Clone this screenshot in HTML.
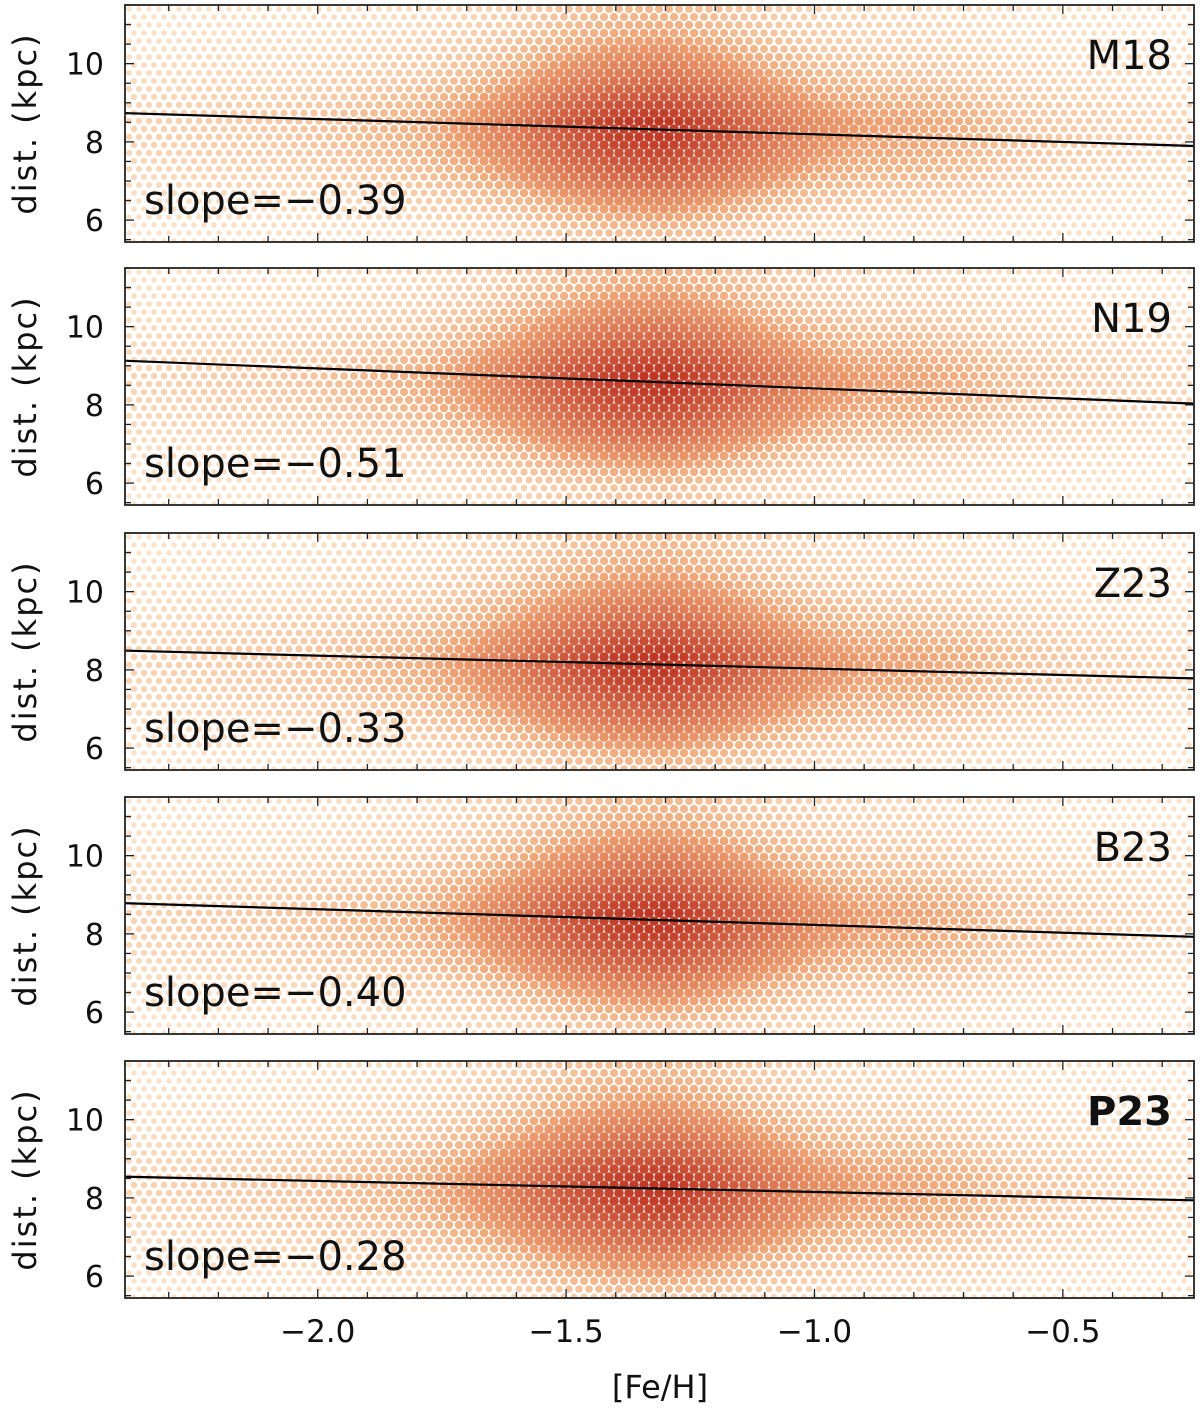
<!DOCTYPE html>
<html><head><meta charset="utf-8"><style>
body{margin:0;background:#fff;width:1200px;height:1411px;overflow:hidden}
svg{display:block}
text{font-family:"DejaVu Sans","Liberation Sans",sans-serif;fill:#111}
</style></head><body>
<svg id="chart" width="1200" height="1411" viewBox="0 0 1200 1411" xmlns="http://www.w3.org/2000/svg"></svg>
<script>
// ---- data ----
const panelNames = ["M18","N19","Z23","B23","P23"];
const slopes = [-0.39,-0.51,-0.33,-0.40,-0.28];
const slopeLabels = ["slope=\u22120.39","slope=\u22120.51","slope=\u22120.33","slope=\u22120.40","slope=\u22120.28"];
const fitAtCenter = [8.33,8.60,8.15,8.37,8.25]; // distance (kpc) of fit at [Fe/H]=-1.35
const xTicks = [-2.0,-1.5,-1.0,-0.5];
const xTickLabels = ["\u22122.0","\u22121.5","\u22121.0","\u22120.5"];
const yTicks = [6,8,10];
const yTickLabels = ["6","8","10"];
// estimated marginal densities
const fehBins = [-2.4,-2.3,-2.2,-2.1,-2.0,-1.9,-1.8,-1.7,-1.6,-1.5,-1.4,-1.3,-1.2,-1.1,-1.0,-0.9,-0.8,-0.7,-0.6,-0.5,-0.4,-0.3,-0.2];
const fehDensity = [0.15,0.17,0.2,0.22,0.25,0.3,0.35,0.45,0.6,0.8,0.95,1.0,0.85,0.65,0.5,0.42,0.4,0.35,0.27,0.22,0.18,0.15,0.13];
const distBins = [5.5,6.0,6.5,7.0,7.5,8.0,8.5,9.0,9.5,10.0,10.5,11.0,11.5];
const distDensity = [0.25,0.38,0.52,0.7,0.85,0.97,1.0,0.85,0.68,0.55,0.43,0.35,0.3];

// ---- layout ----
const NS="http://www.w3.org/2000/svg";
const svg=document.getElementById('chart');
const L=125,R=1194,X0=-2.388,X1=-0.236;
const panelTops=[5,268,533,797,1061], PH=237, Y0=5.44, Y1=11.5;
const xs=v=>L+(v-X0)/(X1-X0)*(R-L);
function mk(tag,attrs,parent){const e=document.createElementNS(NS,tag);for(const k in attrs)e.setAttribute(k,attrs[k]);(parent||svg).appendChild(e);return e;}
function interp(bins,vals,v){if(v<=bins[0])return vals[0];for(let i=1;i<bins.length;i++){if(v<=bins[i]){const t=(v-bins[i-1])/(bins[i]-bins[i-1]);return vals[i-1]+t*(vals[i]-vals[i-1]);}}return vals[vals.length-1];}
function col(t){
  const a=[250,214,172],b=[241,168,118],c=[190,52,34];
  let p,q,u;
  if(t<0.35){p=a;q=b;u=t/0.35;}else{p=b;q=c;u=Math.min(1,(t-0.35)/0.65);}
  return `rgb(${p.map((v,i)=>Math.round(v+(q[i]-v)*u)).join(',')})`;
}

panelNames.forEach((name,pi)=>{
  const T=panelTops[pi],B=T+PH;
  const ys=v=>B-(v-Y0)/(Y1-Y0)*PH;
  const g=mk('g',{});
  
  
  const clip=mk('clipPath',{id:'c'+pi},g);
  mk('rect',{x:L,y:T,width:R-L,height:PH},clip);
  const dots=mk('g',{'clip-path':`url(#c${pi})`},g);
  
  
  const shift=fitAtCenter[pi]-8.3;
  let row=0;
  for(let y=T+4;y<B;y+=8,row++){
    const dv=Y0+(B-y)/PH*(Y1-Y0)-shift;
    const dd=interp(distBins,distDensity,dv);
    for(let x=L+4+(row%2)*5;x<R;x+=10){
      const fv=X0+(x-L)/(R-L)*(X1-X0);
      const fd=interp(fehBins,fehDensity,fv);
      const t=fd*dd;
      const r=2.4+2.4*Math.min(1,t*2.2);
      mk('circle',{cx:x,cy:y,r:r,fill:col(t),'fill-opacity':Math.min(1,0.55+t)},dots);
    }
  }
  const ln=mk('line',{x1:L,y1:ys(fitAtCenter[pi]+slopes[pi]*(X0+1.35)),x2:R,y2:ys(fitAtCenter[pi]+slopes[pi]*(X1+1.35)),stroke:'#000','stroke-width':2.2},g);
  
  
  mk('rect',{x:L,y:T,width:R-L,height:PH,fill:'none',stroke:'#222','stroke-width':1.8},g);
  for(let k=-23;k<=-3;k++){const v=k/10;const x=xs(v);if(x<L||x>R)continue;const len=(k%5===0)?9:6;
    mk('line',{x1:x,y1:B,x2:x,y2:B-len,stroke:'#222','stroke-width':1.3},g);
    mk('line',{x1:x,y1:T,x2:x,y2:T+len,stroke:'#222','stroke-width':1.3},g);}
  for(let k=11;k<=23;k++){const v=k/2;const y=ys(v);if(y<T||y>B)continue;const len=(k%4===0)?9:6;
    mk('line',{x1:L,y1:y,x2:L+len,y2:y,stroke:'#222','stroke-width':1.3},g);
    mk('line',{x1:R,y1:y,x2:R-len,y2:y,stroke:'#222','stroke-width':1.3},g);}
  yTicks.forEach((v,i)=>{const t=mk('text',{x:104,y:ys(v)+11,'text-anchor':'end','font-size':30},g);t.textContent=yTickLabels[i];
    });
  const yl=mk('text',{x:0,y:0,'text-anchor':'middle','font-size':32,'letter-spacing':2,transform:`translate(36,${T+PH/2}) rotate(-90)`},g);
  yl.textContent='dist. (kpc)';
  
  const nl=mk('text',{x:1172,y:T+64,'text-anchor':'end','font-size':40,'font-weight':pi===4?'bold':'normal'},g);
  nl.textContent=name;
  
  const sl=mk('text',{x:144,y:T+209,'font-size':40},g);
  sl.textContent=slopeLabels[pi];
  
});
xTicks.forEach((v,i)=>{const t=mk('text',{x:xs(v),y:1342,'text-anchor':'middle','font-size':31});t.textContent=xTickLabels[i];
  });
const xl=mk('text',{x:660,y:1398,'text-anchor':'middle','font-size':32});
xl.textContent='[Fe/H]';


</script>
</body></html>
